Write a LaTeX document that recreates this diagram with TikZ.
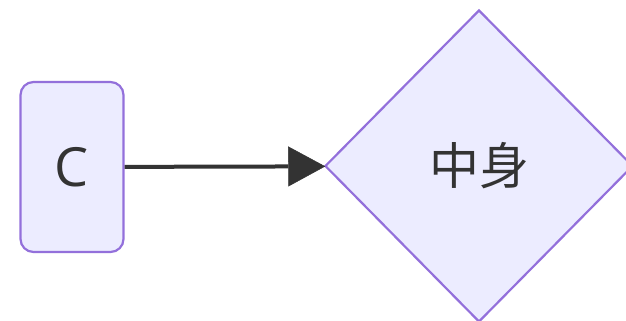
\documentclass[tikz,border=0pt]{standalone}
\usepackage{fontspec}
\setmainfont{Open Sans}
\newfontfamily\cjkfont{Noto Sans CJK SC}
\usepackage{xcolor}
\usetikzlibrary{arrows.meta, positioning, shapes.geometric}

\definecolor{boxfill}{HTML}{ECECFF}
\definecolor{boxline}{HTML}{9370DB}
\definecolor{ink}{HTML}{333333}

\begin{document}
\begin{tikzpicture}[x=1pt, y=1pt, >=latex]
		\tikzstyle{roundbox} = [draw=boxline, fill=boxfill, line width=2.2pt, rounded corners=13pt, minimum width=103pt, minimum height=170pt, text=ink, font=\fontsize{54}{60}\selectfont]
		\tikzstyle{choice} = [draw=boxline, fill=boxfill, line width=2.2pt, diamond, inner sep=0pt, minimum width=308pt, minimum height=312pt, text=ink, font=\cjkfont\fontsize{50}{56}\selectfont]
		\tikzstyle{arrow} = [line width=4pt, draw=ink, shorten >=-1pt, -{Triangle[length=37pt, width=40pt, fill=ink, line width=0.5pt]}]
		
		\useasboundingbox (0, 0) rectangle (626, -321);
		
		\node[roundbox] 	at (72, -167) 		(c) 	{C};
		\node[choice] 	at (479, -166)		(d) 	{中身};
		
		\path[arrow]
		(c) 	edge 		(d);
	\end{tikzpicture}
\end{document}
